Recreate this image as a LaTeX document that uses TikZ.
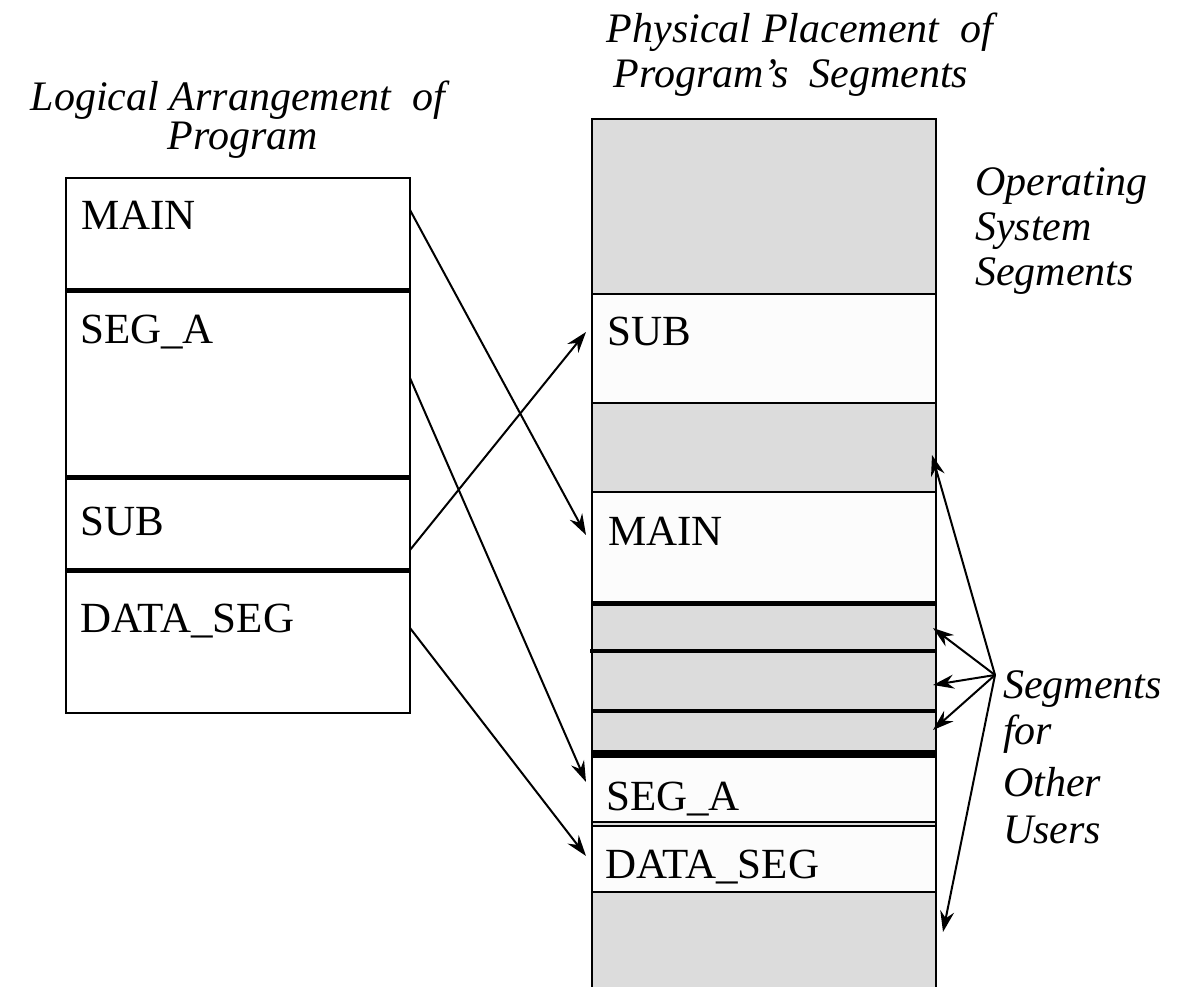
\documentclass[tikz,border=0pt]{standalone}
\usepackage{fontspec}
\setmainfont{Liberation Serif}
\usetikzlibrary{arrows.meta}
\definecolor{osgray}{HTML}{DCDCDC}
\definecolor{segwhite}{HTML}{FCFCFC}
\begin{document}
\begin{tikzpicture}[x=1pt,y=-1pt,
  lbl/.style={anchor=base west, inner sep=0pt, font=\fontsize{43}{48}\selectfont},
  ttl/.style={inner sep=0pt, font=\fontsize{42}{46}\selectfont\itshape},
  arr/.style={line width=2pt, -{Stealth[length=21pt,width=14pt,inset=7pt]}},
  edge/.style={line width=2.4pt},
  sepbold/.style={line width=5pt},
  segbox/.style={line width=2.2pt, fill=segwhite}]
\useasboundingbox (0,0) rectangle (1181,987);

% ---- titles
\node[ttl] (t1) at (238,100) {Logical Arrangement\ \ of};
\node[ttl] (t2) at (243,140) {Program};
\node[ttl] (t3) at (800,32) {Physical Placement\ \ of};
\node[ttl] (t4) at (791,78) {Program's\ \ Segments};
\node[ttl, anchor=west] (os1) at (975,186) {Operating};
\node[ttl, anchor=west] (os2) at (975,231) {System};
\node[ttl, anchor=west] (os3) at (975,276) {Segments};
\node[ttl, anchor=west] (ou1) at (1003,689) {Segments};
\node[ttl, anchor=west] (ou2) at (1003,734) {for};
\node[ttl, anchor=west] (ou3) at (1003,782) {Other};
\node[ttl, anchor=west] (ou4) at (1003,830) {Users};

% ---- left (logical) box
\draw[edge] (66,178) rectangle (410,713);
\draw[sepbold] (66,290) -- (410,290);
\draw[sepbold] (66,477) -- (410,477);
\draw[sepbold] (66,570) -- (410,570);
\node[lbl] (lmain) at (81,230) {MAIN};
\node[lbl] (lsega) at (80,343) {SEG\_A};
\node[lbl] (lsub)  at (80,535) {SUB};
\node[lbl] (ldata) at (80,632) {DATA\_SEG};

% ---- right (physical) column
\fill[osgray] (592,119) rectangle (936,987);
\draw[segbox] (592,294) rectangle (936,403);
\draw[segbox] (592,492) rectangle (936,603);
\draw[segbox] (592,757) rectangle (936,822);
\draw[segbox] (592,826) rectangle (936,892);
\draw[edge, line width=2.8pt] (592,987) -- (592,119) -- (936,119) -- (936,987);
\draw[sepbold] (592,603) -- (936,603);
\draw[line width=4.5pt] (590,651) -- (936,651);
\draw[line width=4pt] (592,711) -- (936,711);
\draw[line width=6.5pt] (592,753) -- (936,753);
\node[lbl] (rsub)  at (607,345) {SUB};
\node[lbl] (rmain) at (608,545) {MAIN};
\node[lbl] (rsega) at (606,810) {SEG\_A};
\node[lbl] (rdata) at (605,878) {DATA\_SEG};

% ---- connector end points
\coordinate (amain) at (410,210);
\coordinate (asega) at (410,378);
\coordinate (asub)  at (410,550);
\coordinate (adata) at (410,628);
\coordinate (bmain) at (586,535);
\coordinate (bsega) at (586,782);
\coordinate (bsub)  at (586,332);
\coordinate (bdata) at (586,856);
\coordinate (apex)  at (995,675);
\coordinate (o1) at (932,455);
\coordinate (o2) at (933,628);
\coordinate (o3) at (933,685);
\coordinate (o4) at (933,730);
\coordinate (o5) at (943,932);

\draw[arr] (amain) -- (bmain);
\draw[arr] (asega) -- (bsega);
\draw[arr] (asub) -- (bsub);
\draw[arr] (adata) -- (bdata);
\draw[arr] (apex) -- (o1);
\draw[arr] (apex) -- (o2);
\draw[arr] (apex) -- (o3);
\draw[arr] (apex) -- (o4);
\draw[arr] (apex) -- (o5);
\end{tikzpicture}
\end{document}
